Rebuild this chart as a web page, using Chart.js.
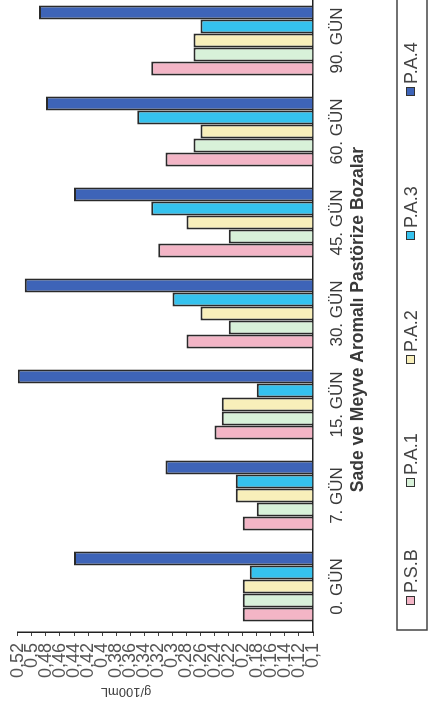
<!DOCTYPE html>
<html>
<head>
<meta charset="utf-8">
<script src="https://cdn.jsdelivr.net/npm/chart.js@4.4.1/dist/chart.umd.min.js"></script>
<style>
  html, body { margin: 0; padding: 0; background: #ffffff; width: 429px; height: 710px; overflow: hidden; }
  /* the chart is laid out landscape and turned a quarter turn to stand upright on the page */
  #wrap { position: absolute; left: 0; top: 0; width: 720px; height: 429px;
          transform-origin: 0 0; transform: translate(0px, 710px) rotate(-90deg); }
  #chart { width: 720px; height: 429px; display: block; }
</style>
</head>
<body>
<div id="wrap"><canvas id="chart" width="720" height="429"></canvas></div>
<script>
// Storage days
const categories = ['0. GÜN', '7. GÜN', '15. GÜN', '30. GÜN', '45. GÜN', '60. GÜN', '90. GÜN'];

// g/100mL per sample
const psb = [0.20, 0.20, 0.24, 0.28, 0.32, 0.31, 0.33];
const pa1 = [0.20, 0.18, 0.23, 0.22, 0.22, 0.27, 0.27];
const pa2 = [0.20, 0.21, 0.23, 0.26, 0.28, 0.26, 0.27];
const pa3 = [0.19, 0.21, 0.18, 0.30, 0.33, 0.35, 0.26];
const pa4 = [0.44, 0.31, 0.52, 0.51, 0.44, 0.48, 0.49];

const seriesNames = ['P.S.B', 'P.A.1', 'P.A.2', 'P.A.3', 'P.A.4'];
const seriesColors = ['#f3b5c6', '#d8f1d9', '#f8efba', '#35c2ee', '#3e64b8'];

const valueTicks = [0.10, 0.12, 0.14, 0.16, 0.18, 0.20, 0.22, 0.24, 0.26, 0.28, 0.30,
                    0.32, 0.34, 0.36, 0.38, 0.40, 0.42, 0.44, 0.46, 0.48, 0.50, 0.52];

const xTitle = 'Sade ve Meyve Aromalı Pastörize Bozalar';
const yTitle = 'g/100mL';

const FONT = '"Liberation Sans", Arial, sans-serif';

function fmt(v) {
  return String(parseFloat(v.toFixed(2))).replace('.', ',');
}

// Axis title, value-axis caption and the boxed legend
const annotate = {
  id: 'annotate',
  afterDraw(chart) {
    const ctx = chart.ctx;
    const a = chart.chartArea;
    ctx.save();

    ctx.fillStyle = '#3a3a3a';
    ctx.font = 'bold 17.5px ' + FONT;
    ctx.textAlign = 'center';
    ctx.textBaseline = 'middle';
    ctx.fillText(xTitle, (a.left + a.right) / 2 - 6, a.bottom + 45);

    ctx.save();
    ctx.translate(18, 126);
    ctx.rotate(-Math.PI / 2);
    ctx.font = '13px ' + FONT;
    ctx.fillStyle = '#444';
    ctx.fillText(yTitle, 0, 0);
    ctx.restore();

    // legend frame
    ctx.strokeStyle = '#444';
    ctx.lineWidth = 1.5;
    ctx.strokeRect(80, 397, 660, 30);

    const itemStarts = [105, 223, 346, 470, 614];
    ctx.font = '18px ' + FONT;
    ctx.textAlign = 'left';
    for (let i = 0; i < seriesNames.length; i++) {
      const x = itemStarts[i];
      ctx.fillStyle = seriesColors[i];
      ctx.fillRect(x, 406, 9, 9);
      ctx.strokeStyle = '#333';
      ctx.lineWidth = 1;
      ctx.strokeRect(x + 0.5, 406.5, 8, 8);
      ctx.fillStyle = '#444';
      ctx.fillText(seriesNames[i], x + 12, 412);
    }
    ctx.restore();
  }
};

const seriesData = [psb, pa1, pa2, pa3, pa4];

new Chart(document.getElementById('chart'), {
  type: 'bar',
  data: {
    labels: categories,
    datasets: seriesData.map((d, i) => ({
      label: seriesNames[i],
      data: d,
      base: 0.1,
      backgroundColor: seriesColors[i],
      borderColor: '#2a2a2a',
      borderWidth: 2,
      borderSkipped: 'start',
      categoryPercentage: 0.77,
      barPercentage: 1.0
    }))
  },
  options: {
    responsive: false,
    animation: false,
    devicePixelRatio: 1,
    layout: { padding: { left: 0, right: 5, top: 17, bottom: 0 } },
    plugins: {
      legend: { display: false },
      title: { display: false },
      tooltip: { enabled: false }
    },
    scales: {
      x: {
        grid: { display: false, drawTicks: false },
        border: { display: true, color: '#222', width: 1.5 },
        ticks: { color: '#3a3a3a', font: { family: FONT, size: 17 }, padding: 14, maxRotation: 0, autoSkip: false },
        afterFit(scale) { scale.height = 116; }
      },
      y: {
        min: 0.1,
        max: 0.52,
        afterBuildTicks(scale) { scale.ticks = valueTicks.map(v => ({ value: v })); },
        grid: { drawOnChartArea: false, drawTicks: true, tickLength: 4, color: '#444' },
        border: { display: true, color: '#222', width: 1.5 },
        ticks: { color: '#555', font: { family: FONT, size: 18 }, padding: 7,
                 callback: (v) => fmt(v), autoSkip: false },
        afterFit(scale) { scale.width = 78; }
      }
    }
  },
  plugins: [annotate]
});
</script>
</body>
</html>
